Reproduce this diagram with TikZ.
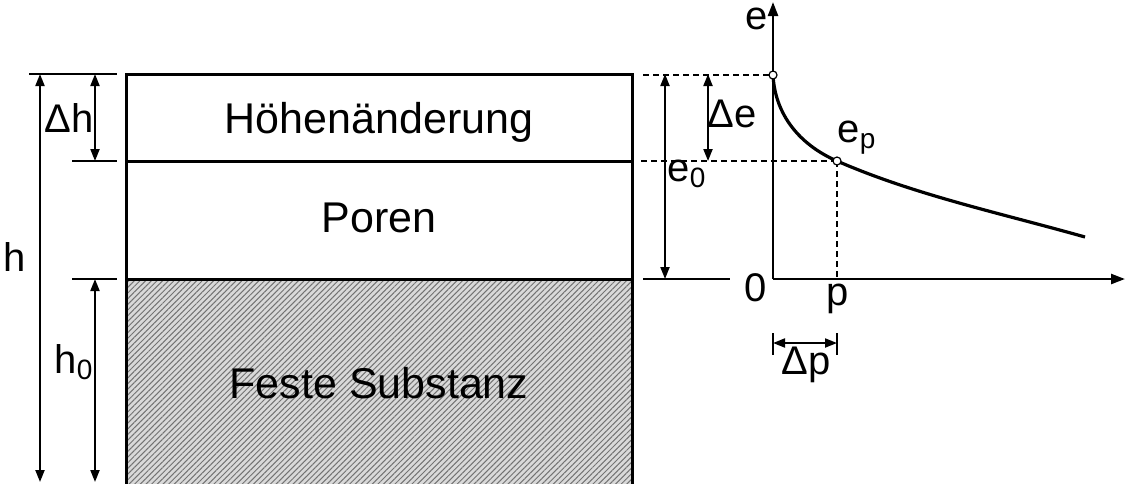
\documentclass[tikz,border=0pt]{standalone}
\usepackage{fontspec}
\setmainfont{Liberation Sans}
\usetikzlibrary{arrows.meta,patterns.meta,positioning}

\begin{document}
\begin{tikzpicture}
    [x=0.5pt, y=-0.5pt,
    % STYLES
    every node/.style={inner sep=1pt, font=\fontsize{20}{24}\selectfont},
    % The layer style is used for the soil column
    layer/.style={line width=1.5pt},
    % The layertext style is used for the names of the layers
    layertext/.style={font=\fontsize{21.5}{26}\selectfont},
    % The dim style is used for the dimension arrows
    dim/.style={line width=1pt, {Triangle[length=6pt,width=4.5pt]}-{Triangle[length=6pt,width=4.5pt]}},
    tick/.style={line width=0.8pt},
    helper/.style={line width=0.8pt, dash pattern=on 3pt off 2pt},
    axis/.style={line width=1.2pt, -{Triangle[length=7pt,width=5pt]}},
    curve/.style={line width=1.6pt},
    dot/.style={circle, draw, line width=0.6pt, fill=white, inner sep=0pt, minimum size=4pt}]

    \useasboundingbox (0,0) rectangle (1127,483);

    % Soil column
    \fill[gray!30] (126,279) rectangle (632,490);
    \fill[pattern={Lines[angle=45,distance=2pt,line width=0.5pt]}, pattern color=black!55] (126,279) rectangle (632,490);
    \draw[layer] (126,490) -- (126,74) -- (632,74) -- (632,490);
    \draw[layer] (126,161) -- (632,161);
    \draw[layer] (126,279) -- (632,279);

    \node [layertext] (hoehe) at (379,122) {Höhenänderung};
    \node [layertext] (poren) at (379,218) {Poren};
    \node [layertext] (fest) at (379,383) {Feste Substanz};

    % Dimensions left
    \coordinate (ht) at (40,74);
    \coordinate (hb) at (40,482);
    \coordinate (dht) at (95,74);
    \coordinate (dhb) at (95,161);
    \coordinate (h0t) at (95,279);
    \coordinate (h0b) at (95,482);
    \draw[tick] (29,74) -- (117,74);
    \draw[tick] (72,161) -- (117,161);
    \draw[tick] (72,279) -- (117,279);
    \draw[dim] (ht) -- (hb);
    \draw[dim] (dht) -- (dhb);
    \draw[dim] (h0t) -- (h0b);
    \node (h) at (15,257) {h};
    \node (dh) at (69,118) {Δh};
    \node (h0) at (74,362) {h\textsubscript{0}};

    % Diagram
    \coordinate (O) at (773,279);
    \coordinate (E0) at (773,75);
    \coordinate (EP) at (837,161);
    \coordinate (P) at (837,279);
    \coordinate (eend) at (773,2);
    \coordinate (pend) at (1125,279);
    \draw[axis] (O) -- (eend);
    \draw[axis] (O) -- (pend);
    \draw[curve] (E0) .. controls (775,115) and (800,145) .. (EP)
        .. controls (915,195) and (1000,213) .. (1085,237);

    % Dimensions right
    \coordinate (e0t) at (665,74);
    \coordinate (e0b) at (665,279);
    \coordinate (det) at (708,74);
    \coordinate (deb) at (708,161);
    \draw[helper] (643,75) -- (E0);
    \draw[helper] (641,161) -- (EP);
    \draw[helper] (EP) -- (P);
    \draw[tick] (643,279) -- (730,279);
    \draw[dim] (e0t) -- (e0b);
    \draw[dim] (det) -- (deb);
    \node (e0) at (687,174) {e\textsubscript{0}};
    \node (de) at (732,114) {Δe};

    \node[dot] (e0pt) at (E0) {};
    \node[dot] (eppt) at (EP) {};

    \node (e) at (757,19) {e};
    \node (null) at (756,288) {0};
    \node (p) at (838,299) {p};
    \node (ep) at (857,138) {e\textsubscript{p}};

    \coordinate (dpl) at (773,343);
    \coordinate (dpr) at (837,343);
    \draw[tick] (773,333) -- (773,355);
    \draw[tick] (837,333) -- (837,355);
    \draw[dim] (dpl) -- (dpr);
    \node (dp) at (806,365) {Δp};
\end{tikzpicture}
\end{document}
